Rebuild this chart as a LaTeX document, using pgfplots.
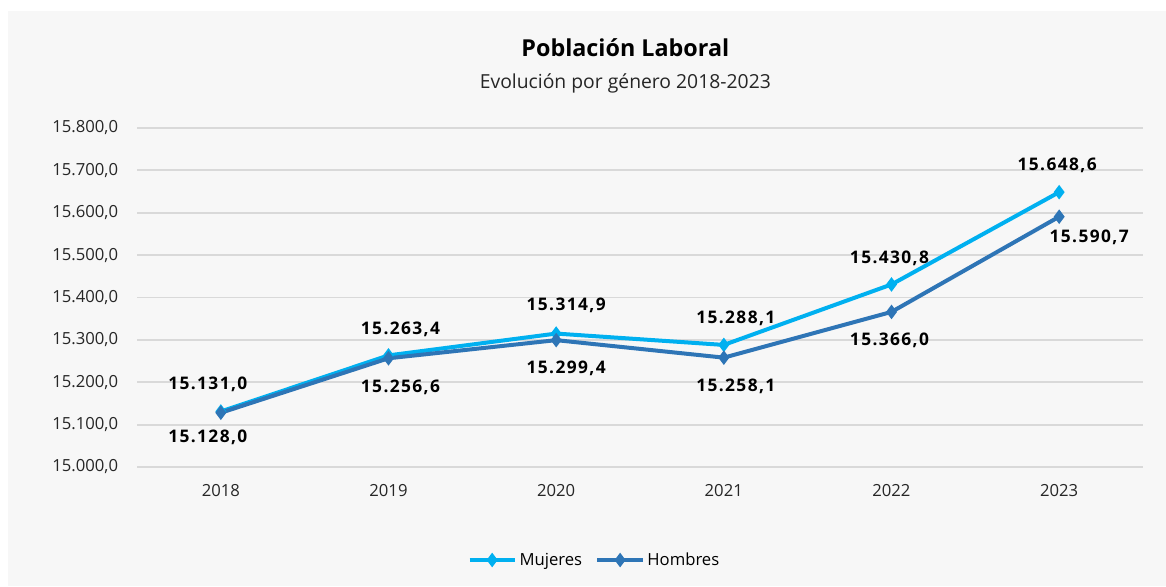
\documentclass[border=0pt]{standalone}
\usepackage{pgfplots}
\pgfplotsset{compat=1.18}
\usepackage{pgfplotstable}
\usepackage{fontspec}
\setmainfont{Open Sans}
\newfontfamily\lblfont[LetterSpace=8]{Open Sans}

\definecolor{bgpanel}{HTML}{F7F7F7}
\definecolor{gridc}{HTML}{D9D9D9}
\definecolor{mujc}{HTML}{00B0F0}
\definecolor{homc}{HTML}{2E75B6}
\definecolor{txt}{HTML}{262626}

% x  y  label  dx dy (pt, label offsets)
\pgfplotstableread{
x    y        lbl        dx     dy
2018 15131.0  15.131,0   -9.75  20.25
2019 15263.4  15.263,4    9.0   19.5
2020 15314.9  15.314,9    7.5   21.0
2021 15288.1  15.288,1    9.0   20.25
2022 15430.8  15.430,8   -1.5   19.5
2023 15648.6  15.648,6   -1.5   20.25
}\mujeres
\pgfplotstableread{
x    y        lbl        dx     dy
2018 15128.0  15.128,0   -9.75 -18.75
2019 15256.6  15.256,6    9.0  -21.75
2020 15299.4  15.299,4    7.5  -21.0
2021 15258.1  15.258,1    9.0  -21.75
2022 15366.0  15.366,0   -1.5  -21.0
2023 15590.7  15.590,7   22.5  -15.75
}\hombres

\begin{document}
\begin{tikzpicture}
\path[use as bounding box] (0,0) rectangle (874.5pt,-439.5pt);
\fill[bgpanel] (6pt,-8.25pt) rectangle (874.5pt,-439.5pt);

\node[font=\fontsize{17.5}{19}\selectfont\bfseries, text=black] at (469pt,-36pt) {Población Laboral};
\node[font=\fontsize{14.5}{16}\selectfont, text=txt] at (469pt,-62.25pt) {Evolución por género 2018-2023};

\begin{axis}[
  scale only axis,
  width=754.5pt, height=254.25pt,
  at={(102.75pt,-350.25pt)}, anchor=south west,
  xmin=2017.5, xmax=2023.5,
  ymin=15000, ymax=15800,
  xtick={2018,...,2023},
  ytick={15000,15100,...,15800},
  scaled y ticks=false,
  axis line style={draw=none},
  ymajorgrids,
  grid style={gridc, line width=1.4pt},
  major tick length=0pt,
  clip=false,
  /pgf/number format/assume math mode=true,
  tick label style={font=\fontsize{12.5}{14}\selectfont, text=txt},
  xticklabel style={/pgf/number format/1000 sep={}, inner sep=0pt, yshift=-13pt},
  yticklabel style={/pgf/number format/.cd, fixed, fixed zerofill, precision=1,
    1000 sep={.}, dec sep={,}, /tikz/.cd, inner sep=0pt, xshift=-14pt},
  legend columns=2,
  legend style={draw=none, fill=none, at={(0.455,0)}, anchor=center,
    yshift=-69.75pt, font=\fontsize{12.5}{14}\selectfont,
    /tikz/every even column/.append style={column sep=8pt}},
  legend image code/.code={
    \draw[mark repeat=2, mark phase=2, #1] plot coordinates {(0pt,0pt) (17pt,0pt) (34pt,0pt)};},
  nodes near coords={\pgfplotspointmeta},
  point meta=explicit symbolic,
  visualization depends on={\thisrow{dx} \as \ldx},
  visualization depends on={\thisrow{dy} \as \ldy},
  every node near coord/.append style={anchor=center, xshift=\ldx pt, yshift=\ldy pt,
    font=\lblfont\fontsize{13}{15}\selectfont\bfseries, text=black},
]
\addplot[mujc, line width=3pt, mark=diamond*, mark size=3pt,
  mark options={mujc}] table[x=x, y=y, meta=lbl] {\mujeres};
\addlegendentry{Mujeres}
\addplot[homc, line width=3pt, mark=diamond*, mark size=3pt,
  mark options={homc}] table[x=x, y=y, meta=lbl] {\hombres};
\addlegendentry{Hombres}
\end{axis}
\end{tikzpicture}
\end{document}
